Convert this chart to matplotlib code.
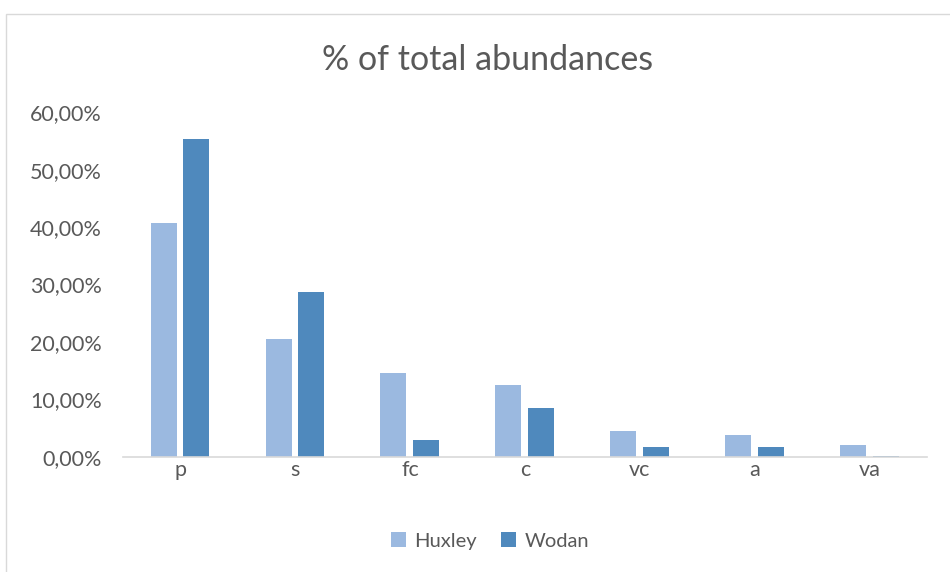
import matplotlib
matplotlib.use("Agg")
import matplotlib.pyplot as plt
import numpy as np
from matplotlib.ticker import FuncFormatter, MultipleLocator
from matplotlib.patches import Rectangle

categories = ["p", "s", "fc", "c", "vc", "a", "va"]
huxley = [40.7, 20.5, 14.7, 12.6, 4.6, 3.8, 2.1]
wodan = [55.3, 28.7, 2.9, 8.5, 1.7, 1.7, 0.2]

plt.rcParams['font.family'] = ['Lato', 'DejaVu Sans']
txt = '#595959'

fig = plt.figure(figsize=(9.5, 5.72), dpi=100)
ax = fig.add_axes([0.129, 0.201, 0.847, 0.603])

x = np.arange(len(categories))
w = 0.226
gap = 0.06
ax.bar(x - (w + gap) / 2, huxley, w, color='#9BB9E0', label='Huxley')
ax.bar(x + (w + gap) / 2, wodan, w, color='#4F89BD', label='Wodan')

ax.set_xlim(-0.5, len(categories) - 0.5)
ax.set_ylim(0, 60)
ax.yaxis.set_major_locator(MultipleLocator(10))
ax.yaxis.set_major_formatter(FuncFormatter(lambda v, p: f"{v:.2f}%".replace('.', ',')))
ax.set_xticks(x)
ax.set_xticklabels(categories)
ax.tick_params(axis='both', length=0, labelsize=15.5, colors=txt)
ax.tick_params(axis='y', pad=15)
ax.tick_params(axis='x', pad=2)
for s in ['top', 'right', 'left']:
    ax.spines[s].set_visible(False)
ax.spines['bottom'].set_color('#D9D9D9')
ax.spines['bottom'].set_linewidth(1.2)

fig.text(0.513, 0.895, "% of total abundances", ha='center', va='center', fontsize=24.5, color=txt)

fig.legend(loc='center', bbox_to_anchor=(0.516, 0.054), ncol=2, frameon=False,
           fontsize=14.5, labelcolor=txt, handlelength=0.75, handleheight=0.75,
           columnspacing=1.2, handletextpad=0.4)

# chart border
fig.patches.append(Rectangle((6 / 950, -0.1), 1.2, 1 - 14 / 572 + 0.1, transform=fig.transFigure,
                             fill=False, edgecolor='#D9D9D9', linewidth=1))

fig.savefig("out.png", dpi=100)
